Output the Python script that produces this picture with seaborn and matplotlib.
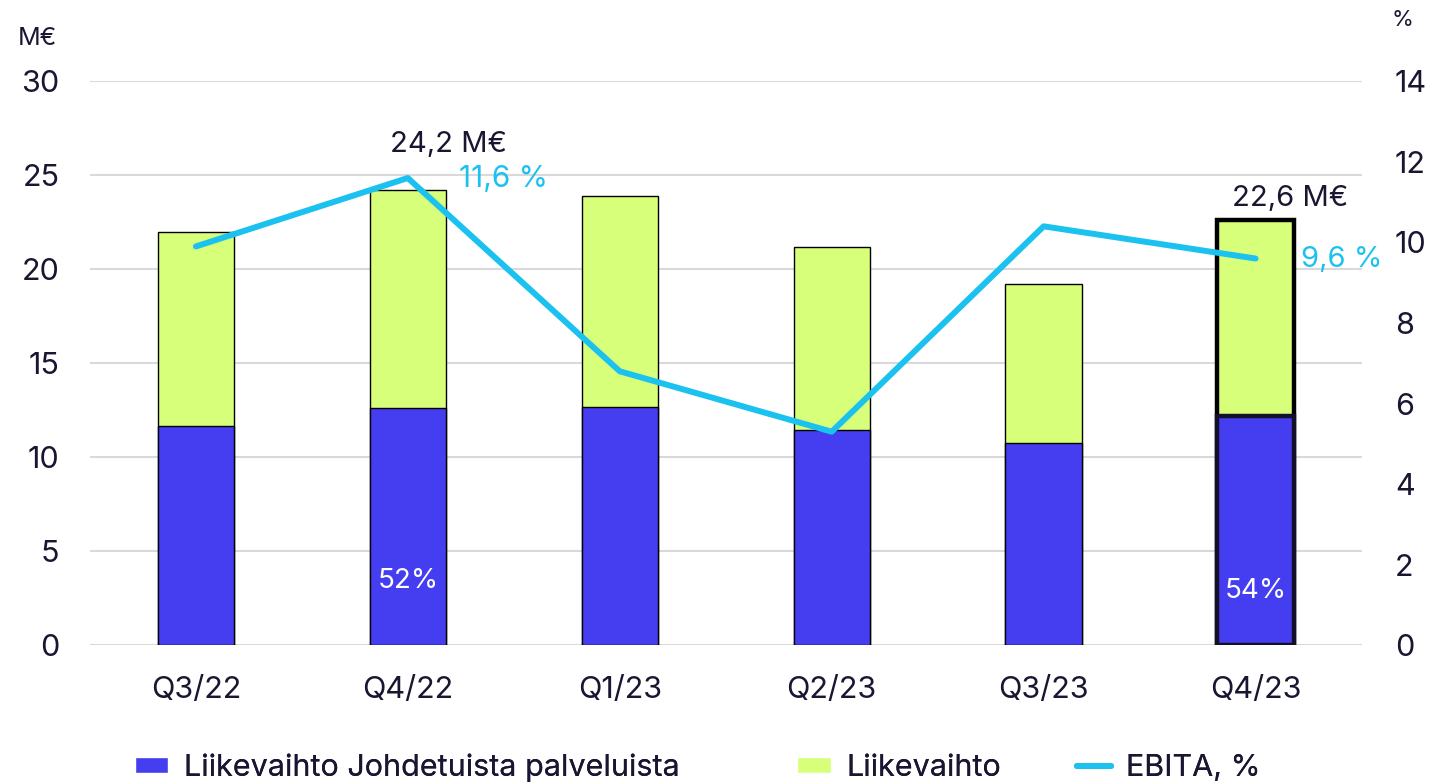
import numpy as np
import pandas as pd
import seaborn as sns
from matplotlib import pyplot as plt
from matplotlib.lines import Line2D
from matplotlib.patches import Patch

QUARTERS = ['Q3/22', 'Q4/22', 'Q1/23', 'Q2/23', 'Q3/23', 'Q4/23']
REVENUE_TOTAL = [22.0, 24.2, 23.9, 21.2, 19.2, 22.6]
REVENUE_MANAGED = [11.65, 12.6, 12.65, 11.45, 10.75, 12.2]
EBITA_PCT = [9.9, 11.6, 6.8, 5.3, 10.4, 9.6]

BLUE = '#443ef0'
GREEN = '#d7ff7a'
CYAN = '#1cc2ef'
DARK = '#1a1530'
FONT = ['Inter', 'DejaVu Sans']

sns.set_style('white')
plt.rcParams['font.family'] = FONT
plt.rcParams['text.color'] = DARK
plt.rcParams['xtick.color'] = DARK
plt.rcParams['ytick.color'] = DARK

df = pd.DataFrame({'quarter': QUARTERS, 'total': REVENUE_TOTAL,
                   'managed': REVENUE_MANAGED, 'ebita': EBITA_PCT})
df['pos'] = np.arange(len(df))

fig = plt.figure(figsize=(14.5, 7.82), dpi=100)
ax = fig.add_axes([0.062, 0.175, 0.877, 0.721])

sns.barplot(data=df, x='quarter', y='total', color=GREEN, width=0.36,
            edgecolor='black', linewidth=1, saturation=1, ax=ax)
sns.barplot(data=df, x='quarter', y='managed', color=BLUE, width=0.36,
            edgecolor='black', linewidth=1, saturation=1, ax=ax)

# highlight latest quarter
n = len(QUARTERS)
for p in [ax.patches[n - 1], ax.patches[2 * n - 1]]:
    p.set_linewidth(3.2)
    p.set_edgecolor('black')
ax.patches[2 * n - 1].set_edgecolor('#15102a')

ax.set_xlim(-0.5, n - 0.5)
ax.set_ylim(0, 30)
ax.set_yticks(range(0, 31, 5))
ax.grid(axis='y', color='#d9d9d9', linewidth=1.5)
ax.set_axisbelow(True)
for s in ax.spines.values():
    s.set_visible(False)
ax.set_xlabel('')
ax.set_ylabel('')
ax.tick_params(axis='x', labelsize=22, length=0, pad=22)
ax.tick_params(axis='y', labelsize=22, length=0, pad=22)

ax2 = ax.twinx()
sns.lineplot(data=df, x='pos', y='ebita', color=CYAN, linewidth=4.3,
             solid_capstyle='round', solid_joinstyle='round', ax=ax2)
ax2.set_ylim(0, 14)
ax2.set_yticks(range(0, 15, 2))
ax2.set_xlim(-0.5, n - 0.5)
for s in ax2.spines.values():
    s.set_visible(False)
ax2.set_ylabel('')
ax2.set_xlabel('')
ax2.tick_params(axis='y', labelsize=22, length=0, pad=24)

# annotations
ax.annotate('24,2 M€', (1, REVENUE_TOTAL[1]), xytext=(29, 33), textcoords='offset points',
            ha='center', va='center', fontsize=21, color=DARK)
ax.annotate('22,6 M€', (5, REVENUE_TOTAL[5]), xytext=(25, 16), textcoords='offset points',
            ha='center', va='center', fontsize=21, color=DARK)
ax2.annotate('11,6 %', (1, EBITA_PCT[1]), xytext=(37, -1), textcoords='offset points',
             ha='left', va='center', fontsize=21.5, color=CYAN)
ax2.annotate('9,6 %', (5, EBITA_PCT[5]), xytext=(33, -1), textcoords='offset points',
             ha='left', va='center', fontsize=21, color=CYAN)
ax.text(1, 3.4, '52%', ha='center', va='center', fontsize=20, color='white')
ax.text(5, 2.9, '54%', ha='center', va='center', fontsize=20, color='white')

fig.text(0.012, 0.951, 'M€', fontsize=18, ha='left', va='center')
fig.text(0.960, 0.974, '%', fontsize=16, ha='left', va='center')

items = [(Patch(facecolor=BLUE), 'Liikevaihto Johdetuista palveluista', 0.074),
         (Patch(facecolor=GREEN), 'Liikevaihto', 0.531),
         (Line2D([0], [0], color=CYAN, linewidth=4.3), 'EBITA, %', 0.724)]
for handle, label, xpos in items:
    leg = fig.legend([handle], [label], loc='lower left', bbox_to_anchor=(xpos, -0.035),
                     frameon=False, fontsize=22, handlelength=1.1, handleheight=0.45,
                     handletextpad=0.5)
    fig.add_artist(leg)

fig.savefig('out.png', dpi=100)
